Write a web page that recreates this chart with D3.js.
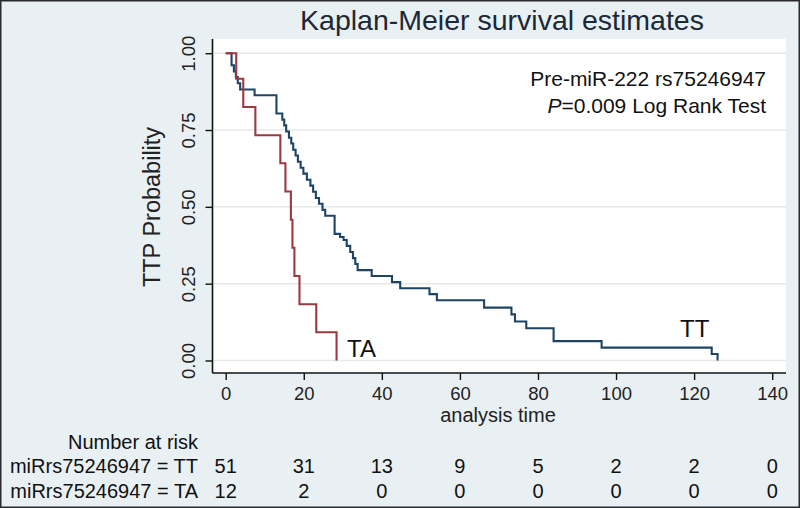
<!DOCTYPE html>
<html>
<head>
<meta charset="utf-8">
<script src="https://cdn.jsdelivr.net/npm/d3@7"></script>
<style>
  html, body { margin: 0; padding: 0; background: #ffffff; }
  svg { display: block; }
  text { font-family: "Liberation Sans", Arial, Helvetica, sans-serif; }
</style>
</head>
<body>
<div id="chart"></div>
<script>
// ---------------- data ----------------
const chartTitle = "Kaplan-Meier survival estimates";
const xTicks = [0, 20, 40, 60, 80, 100, 120, 140];
const yTicks = [0, 0.25, 0.5, 0.75, 1];
const yTickLabels = ["0.00", "0.25", "0.50", "0.75", "1.00"];

// TT genotype: step times and survival after each step
const ttTime = [0, 1.5, 2.1, 2.6, 3.1, 3.7, 7.4, 13.0, 14.5, 15.0, 15.5, 16.2, 16.8, 17.3, 17.9, 18.5, 19.2, 19.9,
  20.8, 21.7, 22.4, 23.1, 23.9, 24.8, 25.5, 27.9, 29.3, 30.2, 31.0, 31.9, 32.6, 33.2, 33.8, 37.4, 42.6, 44.7,
  52.2, 54.1, 66.2, 73.2, 74.1, 77.0, 84.0, 96.3, 124.5, 126.0];
const ttSurv = [1, 0.961, 0.941, 0.922, 0.902, 0.882, 0.863, 0.804, 0.784, 0.765, 0.745, 0.725, 0.706, 0.686, 0.667, 0.647, 0.627, 0.608,
  0.588, 0.569, 0.549, 0.529, 0.510, 0.490, 0.471, 0.412, 0.402, 0.392, 0.373, 0.353, 0.333, 0.314, 0.294, 0.275, 0.255, 0.235,
  0.216, 0.196, 0.172, 0.150, 0.127, 0.105, 0.063, 0.042, 0.021, 0];

// TA genotype
const taTime = [0, 2.7, 4.5, 7.6, 14.0, 15.3, 16.7, 17.1, 17.6, 18.9, 23.2, 28.4];
const taSurv = [1, 0.917, 0.825, 0.733, 0.642, 0.550, 0.458, 0.367, 0.275, 0.183, 0.092, 0];

// Number at risk table
const riskTimes = [0, 20, 40, 60, 80, 100, 120, 140];
const riskTT = [51, 31, 13, 9, 5, 2, 2, 0];
const riskTA = [12, 2, 0, 0, 0, 0, 0, 0];
const riskLabels = ["miRrs75246947 = TT", "miRrs75246947 = TA"];
const curveLabels = ["TT", "TA"];
const noteLines = ["Pre-miR-222 rs75246947", "=0.009 Log Rank Test"];

// ---------------- drawing ----------------
const W = 800, H = 508;
const colTT = "#1d4464", colTA = "#9a3a40";
const svg = d3.select("#chart").append("svg").attr("width", W).attr("height", H);

// graph region background
svg.append("rect").attr("x", 0).attr("y", 0).attr("width", W).attr("height", H)
  .attr("fill", "#e9f0f3");

const plot = { left: 212.5, right: 786, top: 39, bottom: 373 };
svg.append("rect").attr("x", plot.left).attr("y", plot.top)
  .attr("width", plot.right - plot.left).attr("height", plot.bottom - plot.top)
  .attr("fill", "#ffffff");

const x = d3.scaleLinear().domain([0, 140]).range([225.7, 772.2]);
const y = d3.scaleLinear().domain([0, 1]).range([360.5, 53.2]);

// gridlines
svg.append("g").selectAll("line").data(yTicks).join("line")
  .attr("x1", plot.left + 1).attr("x2", plot.right)
  .attr("y1", d => y(d)).attr("y2", d => y(d))
  .attr("stroke", "#e6e9ea").attr("stroke-width", 1.5);

// title
svg.append("text").attr("x", 502).attr("y", 30).attr("text-anchor", "middle")
  .attr("font-size", 28.5).attr("fill", "#1c2836").text(chartTitle);

// y axis
const yAxis = d3.axisLeft(y).tickValues(yTicks).tickSize(7).tickPadding(0)
  .tickFormat((d, i) => yTickLabels[i]);
const gy = svg.append("g").attr("transform", `translate(${plot.left},0)`).call(yAxis);
gy.select(".domain").attr("d", `M0,${plot.top}V${plot.bottom}`).attr("stroke", "#111").attr("stroke-width", 1.6);
gy.selectAll(".tick line").attr("stroke", "#111").attr("stroke-width", 1.4);
gy.selectAll(".tick text")
  .attr("font-size", 18.5).attr("fill", "#222").attr("text-anchor", "middle")
  .attr("x", null).attr("dy", null)
  .attr("transform", "translate(-18,0) rotate(-90)");

// x axis
const xAxis = d3.axisBottom(x).tickValues(xTicks).tickSize(7).tickPadding(7)
  .tickFormat(d3.format("d"));
const gx = svg.append("g").attr("transform", `translate(0,${plot.bottom})`).call(xAxis);
gx.select(".domain").attr("d", `M${plot.left},0H${plot.right}`).attr("stroke", "#111").attr("stroke-width", 1.6);
gx.selectAll(".tick line").attr("stroke", "#111").attr("stroke-width", 1.4);
gx.selectAll(".tick text").attr("font-size", 18.5).attr("fill", "#222");

// axis titles
svg.append("text").attr("x", 498).attr("y", 422).attr("text-anchor", "middle")
  .attr("font-size", 20).attr("fill", "#222").text("analysis time");
svg.append("text").attr("transform", "translate(160,207) rotate(-90)").attr("text-anchor", "middle")
  .attr("font-size", 23.5).attr("fill", "#222").text("TTP Probability");

// survival curves
const step = d3.line().curve(d3.curveStepAfter).x(d => x(d[0])).y(d => y(d[1]));
const ttData = ttTime.map((t, i) => [t, ttSurv[i]]);
const taData = taTime.map((t, i) => [t, taSurv[i]]);
svg.append("path").datum(ttData).attr("d", step).attr("fill", "none")
  .attr("stroke", colTT).attr("stroke-width", 2.1);
svg.append("path").datum(taData).attr("d", step).attr("fill", "none")
  .attr("stroke", colTA).attr("stroke-width", 2.1);

// curve labels
svg.append("text").attr("x", 680).attr("y", 337).attr("font-size", 24).attr("fill", "#111").text(curveLabels[0]);
svg.append("text").attr("x", 347).attr("y", 357).attr("font-size", 24).attr("fill", "#111").text(curveLabels[1]);

// note
const note = svg.append("g").attr("font-size", 21).attr("fill", "#111").attr("text-anchor", "end");
note.append("text").attr("x", 766).attr("y", 86).text(noteLines[0]);
const l2 = note.append("text").attr("x", 766).attr("y", 113);
l2.append("tspan").attr("font-style", "italic").text("P");
l2.append("tspan").text(noteLines[1]);

// number at risk table
const tbl = svg.append("g").attr("font-size", 20).attr("fill", "#111");
tbl.append("text").attr("x", 198).attr("y", 449).attr("text-anchor", "end").text("Number at risk");
[riskTT, riskTA].forEach((row, r) => {
  const yy = 473 + r * 24.5;
  tbl.append("text").attr("x", 198).attr("y", yy).attr("text-anchor", "end").text(riskLabels[r]);
  tbl.append("g").selectAll("text").data(row).join("text")
    .attr("x", (d, i) => x(riskTimes[i])).attr("y", yy).attr("text-anchor", "middle")
    .text(d => d);
});

// outer frame
svg.append("rect").attr("x", 0.75).attr("y", 0.75).attr("width", W - 1.5).attr("height", H - 1.5)
  .attr("fill", "none").attr("stroke", "#2a2a2a").attr("stroke-width", 1.5);
</script>
</body>
</html>
